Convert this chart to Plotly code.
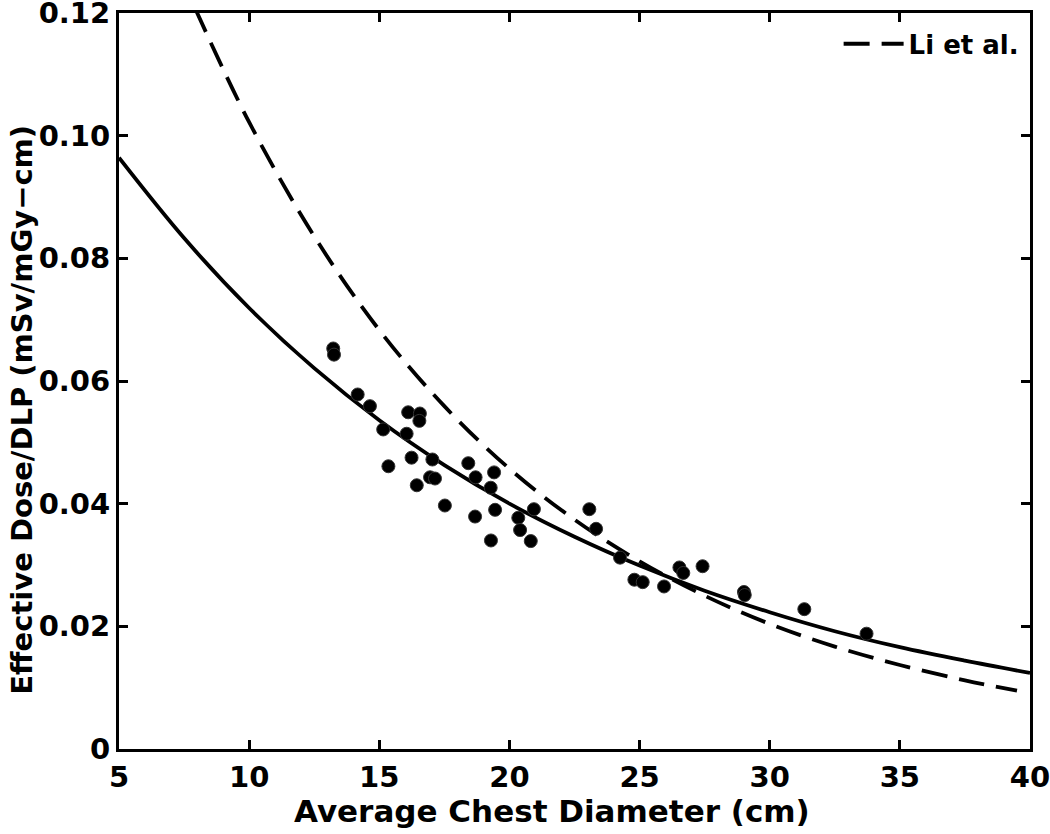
import plotly.graph_objects as go

# measured points (average chest diameter cm, effective dose / DLP)
diam = [13.23, 13.26, 14.17, 14.64, 15.15, 15.35, 16.11, 16.56, 16.54, 16.05,
        16.24, 16.44, 16.95, 17.14, 17.04, 17.52, 18.42, 18.70, 18.68, 19.41,
        19.28, 19.45, 19.29, 20.34, 20.41, 20.82, 20.94, 23.07, 23.33, 24.25,
        24.80, 25.12, 25.94, 26.53, 26.68, 27.42, 29.01, 29.04, 31.33, 33.72]
ratio = [0.0653, 0.0643, 0.0578, 0.0559, 0.0521, 0.0461, 0.0549, 0.0547, 0.0535, 0.0514,
         0.0475, 0.0430, 0.0443, 0.0441, 0.0472, 0.0397, 0.0466, 0.0443, 0.0379, 0.0451,
         0.0426, 0.0390, 0.0340, 0.0377, 0.0357, 0.0339, 0.0391, 0.0391, 0.0359, 0.0312,
         0.0276, 0.0272, 0.0265, 0.0296, 0.0287, 0.0298, 0.0256, 0.0251, 0.0228, 0.0188]

# fitted curve
fit_x = [5, 7.5, 10, 12.5, 15, 17.5, 20, 22.5, 25, 27.5, 30, 32.5, 35, 37.5, 40]
fit_y = [0.0964, 0.0833, 0.0719, 0.0621, 0.0536, 0.0463, 0.0400, 0.0346, 0.0299,
         0.0258, 0.0223, 0.0192, 0.0166, 0.0144, 0.0124]

# Li et al. curve
li_x = [7.92, 10, 12.5, 15, 17.5, 20, 22.5, 25, 27.5, 30, 32.5, 35, 37.5, 39.5]
li_y = [0.1208, 0.1022, 0.0836, 0.0683, 0.0559, 0.0457, 0.0374, 0.0306, 0.0250,
        0.0204, 0.0167, 0.0137, 0.0112, 0.0095]

x_ticks = [5, 10, 15, 20, 25, 30, 35, 40]
y_ticks = [0, 0.02, 0.04, 0.06, 0.08, 0.10, 0.12]
y_labels = ["0", "0.02", "0.04", "0.06", "0.08", "0.10", "0.12"]

x_title = "Average Chest Diameter (cm)"
y_title = "Effective Dose/DLP (mSv/mGy\u2212cm)"

font = "DejaVu Sans, Liberation Sans, Arial, sans-serif"

fig = go.Figure()
fig.add_trace(go.Scatter(x=fit_x, y=fit_y, mode="lines", line_shape="spline",
                         line=dict(color="black", width=3.8), showlegend=False))
fig.add_trace(go.Scatter(x=li_x, y=li_y, mode="lines", line_shape="spline",
                         line=dict(color="black", width=3.8, dash="26px,12px"),
                         name="<b>Li et al.</b>"))
fig.add_trace(go.Scatter(x=diam, y=ratio, mode="markers", showlegend=False,
                         marker=dict(color="black", size=13,
                                     line=dict(color="#333333", width=1))))

axis_common = dict(showline=True, linecolor="black", linewidth=3, mirror="ticks",
                   ticks="inside", ticklen=9, tickwidth=3, tickcolor="black",
                   showgrid=False, zeroline=False, automargin=False,
                   ticklabeloverflow="allow",
                   tickfont=dict(family=font, size=29, color="black"))

fig.update_layout(
    width=1050, height=834,
    margin=dict(l=119, r=20, t=13, b=85),
    plot_bgcolor="white", paper_bgcolor="white",
    font=dict(family=font, color="black"),
    xaxis=dict(range=[5, 40], tickvals=x_ticks,
               ticktext=["<b>%d</b>" % v for v in x_ticks], **axis_common),
    yaxis=dict(range=[0, 0.12], tickvals=y_ticks,
               ticktext=["<b>%s</b>" % t for t in y_labels], **axis_common),
    legend=dict(x=0.993, y=0.99, xanchor="right", yanchor="top",
                bgcolor="rgba(0,0,0,0)", font=dict(family=font, size=26),
                itemwidth=60),
)

# axis titles as annotations so they sit where the original has them
fig.add_annotation(text="<b>%s</b>" % x_title, xref="paper", yref="paper",
                   x=0.5, y=0, xshift=-23, yshift=-62, showarrow=False,
                   xanchor="center", yanchor="middle",
                   font=dict(family=font, size=31, color="black"))
fig.add_annotation(text="<b>%s</b>" % y_title, xref="paper", yref="paper",
                   x=0, y=0.461, xshift=-97, showarrow=False, textangle=-90,
                   xanchor="center", yanchor="middle",
                   font=dict(family=font, size=29, color="black"))

fig.write_html("out.html", config={"displayModeBar": False},
               post_script="document.body.style.margin='0';")
